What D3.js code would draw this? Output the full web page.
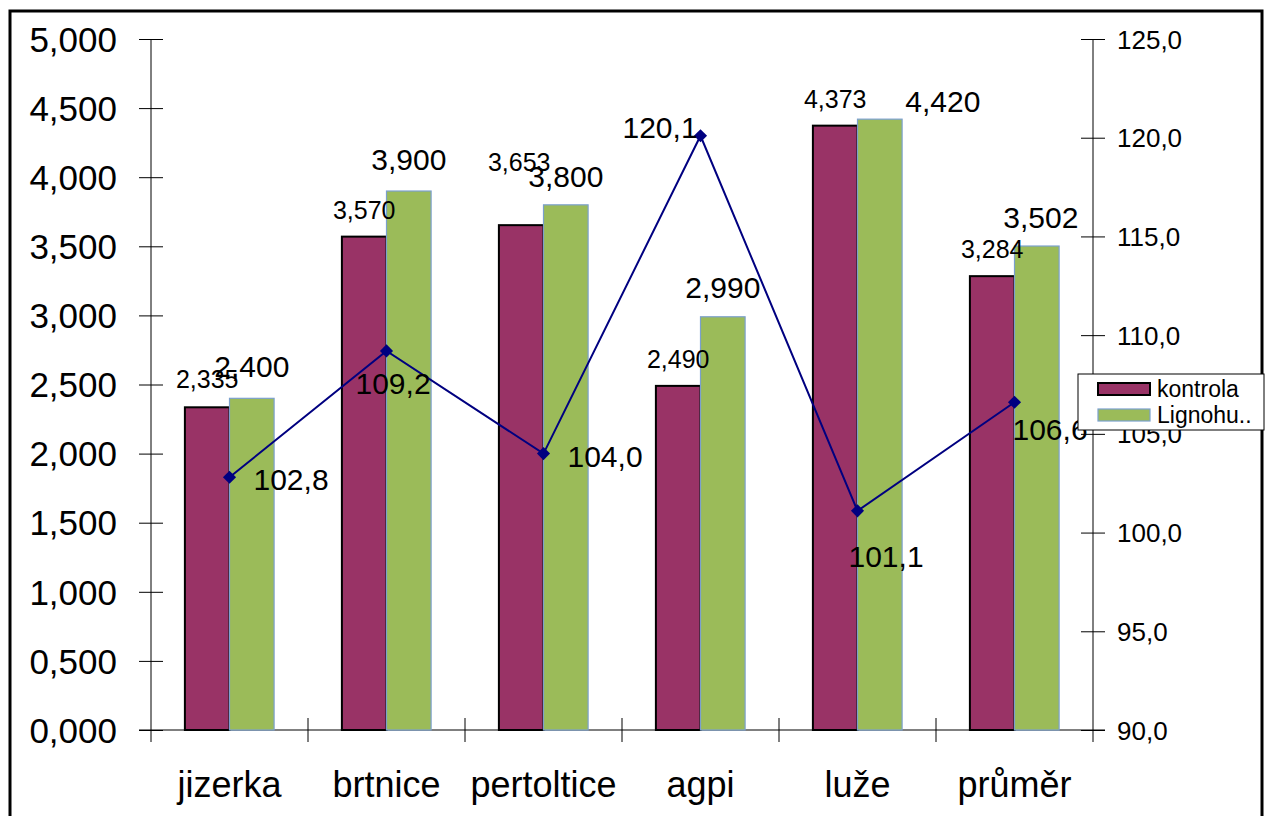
<!DOCTYPE html>
<html>
<head>
<meta charset="utf-8">
<script src="https://d3js.org/d3.v7.min.js"></script>
<style>
  body { margin: 0; background: #fff; }
  text { font-family: "Liberation Sans", Arial, sans-serif; fill: #000; }
</style>
</head>
<body>
<script>
// data
const categories = ["jizerka", "brtnice", "pertoltice", "agpi", "luže", "průměr"];
const series_names = ["kontrola", "Lignohu.."];
const kontrola = [2.335, 3.570, 3.653, 2.490, 4.373, 3.284];
const lignohu = [2.400, 3.900, 3.800, 2.990, 4.420, 3.502];
const index_values = [102.8, 109.2, 104.0, 120.1, 101.1, 106.6];
const left_ticks = [0, 0.5, 1, 1.5, 2, 2.5, 3, 3.5, 4, 4.5, 5];
const right_ticks = [90, 95, 100, 105, 110, 115, 120, 125];

// label placement (dx, gap above bar / dy from point)
const kontrola_label_pos = [[0, 19], [0, 18], [-2, 54], [0, 18], [0, 18], [0, 18]];
const lignohu_label_pos = [[0, 21], [0, 21], [0, 18], [0, 19], [63, 7], [4, 18]];
const line_label_offsets = [[24, 13], [-31, 43], [24, 13], [-78, 2], [-9, 56], [-2, 38]];

const svg_w = 1265, svg_h = 816;
const left_x = 151, right_x = 1093, top_y = 39, bottom_y = 730;

const cz = d3.formatLocale({decimal: ",", thousands: " ", grouping: [3], currency: ["", " Kč"]});
const fmt3 = cz.format(".3f");
const fmt1 = cz.format(".1f");

let svg = d3.select("body").append("svg")
    .attr("width", svg_w)
    .attr("height", svg_h);

// outer frame
svg.append("rect")
    .attr("x", 10).attr("y", 11)
    .attr("width", 1252).attr("height", 830)
    .attr("fill", "white")
    .attr("stroke", "black")
    .attr("stroke-width", 3);

// scales
let x0 = d3.scaleBand().domain(categories).range([left_x, right_x]).padding(0);
let x1 = d3.scaleBand().domain(series_names).range([0, x0.bandwidth()]).paddingInner(0).paddingOuter(0.76);
let y_left = d3.scaleLinear().domain([0, 5]).range([bottom_y, top_y]);
let y_right = d3.scaleLinear().domain([90, 125]).range([bottom_y, top_y]);

// axes
let left_axis = d3.axisLeft(y_left).tickValues(left_ticks).tickFormat(fmt3).tickSize(12).tickPadding(22);
let gl = svg.append("g").attr("transform", "translate(" + left_x + ",0)").call(left_axis);
gl.selectAll(".tick line").attr("x1", 12).attr("stroke", "black");
gl.selectAll(".tick text").style("font-size", "35px").attr("dy", "0.35em");
gl.select(".domain").remove();
gl.append("line").attr("x1", 0).attr("x2", 0).attr("y1", top_y).attr("y2", bottom_y).attr("stroke", "black");

let right_axis = d3.axisRight(y_right).tickValues(right_ticks).tickFormat(fmt1).tickSize(12).tickPadding(12);
let gr = svg.append("g").attr("transform", "translate(" + right_x + ",0)").call(right_axis);
gr.selectAll(".tick line").attr("x1", -12).attr("stroke", "black");
gr.selectAll(".tick text").style("font-size", "26px").attr("dy", "0.35em");
gr.select(".domain").remove();
gr.append("line").attr("x1", 0).attr("x2", 0).attr("y1", top_y).attr("y2", bottom_y).attr("stroke", "black");

// category axis
let gb = svg.append("g");
gb.append("line").attr("x1", left_x - 12).attr("x2", right_x + 12)
    .attr("y1", bottom_y).attr("y2", bottom_y).attr("stroke", "black");
gb.selectAll(null)
    .data(categories.slice(1))
    .enter().append("line")
    .attr("x1", d => x0(d)).attr("x2", d => x0(d))
    .attr("y1", bottom_y - 12).attr("y2", bottom_y + 12)
    .attr("stroke", "black");
gb.append("line").attr("x1", left_x).attr("x2", left_x).attr("y1", bottom_y).attr("y2", bottom_y + 12).attr("stroke", "black");
gb.append("line").attr("x1", right_x).attr("x2", right_x).attr("y1", bottom_y).attr("y2", bottom_y + 12).attr("stroke", "black");
gb.selectAll(null)
    .data(categories)
    .enter().append("text")
    .attr("x", d => x0(d) + x0.bandwidth() / 2)
    .attr("y", bottom_y + 67)
    .attr("text-anchor", "middle")
    .style("font-size", "36px")
    .text(d => d);

// bars
const bar_series = [
    {name: series_names[0], values: kontrola, pos: kontrola_label_pos, fill: "#993366", stroke: "#000000", width: 2, font: 25},
    {name: series_names[1], values: lignohu, pos: lignohu_label_pos, fill: "#9BBB59", stroke: "#7BA0CD", width: 1.2, font: 30}
];

for (const s of bar_series) {
    svg.append("g").selectAll("rect")
        .data(s.values)
        .enter().append("rect")
        .attr("x", (d, i) => x0(categories[i]) + x1(s.name))
        .attr("y", d => y_left(d))
        .attr("width", x1.bandwidth())
        .attr("height", d => bottom_y - y_left(d))
        .attr("fill", s.fill)
        .attr("stroke", s.stroke)
        .attr("stroke-width", s.width);
}

// line
let line_x = (d, i) => x0(categories[i]) + x0.bandwidth() / 2;
svg.append("path")
    .datum(index_values)
    .attr("fill", "none")
    .attr("stroke", "#000080")
    .attr("stroke-width", 2)
    .attr("d", d3.line().x(line_x).y(d => y_right(d)));

svg.append("g").selectAll("path")
    .data(index_values)
    .enter().append("path")
    .attr("d", d3.symbol(d3.symbolDiamond2, 110))
    .attr("transform", (d, i) => "translate(" + line_x(d, i) + "," + y_right(d) + ")")
    .attr("fill", "#000080");

// bar labels
for (const s of bar_series) {
    svg.append("g").selectAll("text")
        .data(s.values)
        .enter().append("text")
        .attr("x", (d, i) => x0(categories[i]) + x1(s.name) + x1.bandwidth() / 2 + s.pos[i][0])
        .attr("y", (d, i) => y_left(d) - s.pos[i][1])
        .attr("text-anchor", "middle")
        .style("font-size", s.font + "px")
        .text(d => fmt3(d));
}

// line labels
svg.append("g").selectAll("text")
    .data(index_values)
    .enter().append("text")
    .attr("x", (d, i) => line_x(d, i) + line_label_offsets[i][0])
    .attr("y", (d, i) => y_right(d) + line_label_offsets[i][1])
    .style("font-size", "30px")
    .text(d => fmt1(d));

// legend
let lg = svg.append("g").attr("transform", "translate(1078,374)");
lg.append("rect")
    .attr("width", 186).attr("height", 56)
    .attr("fill", "white").attr("stroke", "black").attr("stroke-width", 1);
bar_series.forEach((s, i) => {
    lg.append("rect")
        .attr("x", 20).attr("y", 9 + i * 26)
        .attr("width", 52).attr("height", 12)
        .attr("fill", s.fill).attr("stroke", s.stroke)
        .attr("stroke-width", s.width);
    lg.append("text")
        .attr("x", 79).attr("y", 15 + i * 26)
        .attr("dy", "0.35em")
        .style("font-size", "23px")
        .text(s.name);
});
</script>
</body>
</html>
